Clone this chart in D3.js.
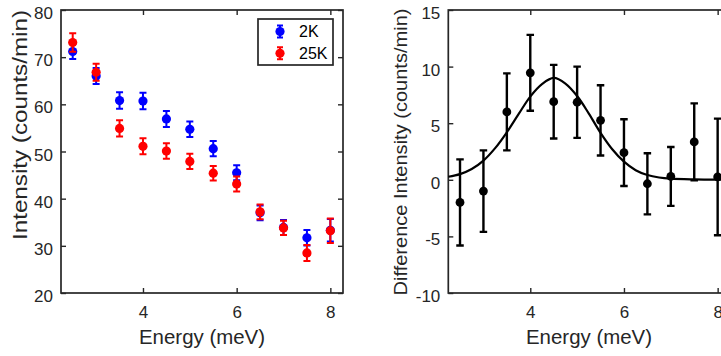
<!DOCTYPE html>
<html><head><meta charset="utf-8">
<script src="https://cdn.jsdelivr.net/npm/d3@7"></script>
<style>
html,body{margin:0;padding:0;background:#fff;}
svg{display:block;font-family:"Liberation Sans",Arial,sans-serif;}
</style></head>
<body>
<svg id="chart" width="721" height="356"></svg>
<script>
// ---------- data ----------
const energy   = [2.5, 3, 3.5, 4, 4.5, 5, 5.5, 6, 6.5, 7, 7.5, 8];
const int2K    = [71.2, 66.0, 60.8, 60.7, 56.9, 54.7, 50.6, 45.5, 37.0, 33.9, 31.7, 33.3];
const err2K    = [1.6, 1.7, 1.75, 1.75, 1.7, 1.65, 1.6, 1.6, 1.55, 1.6, 1.65, 2.4];
const int25K   = [73.1, 66.8, 54.9, 51.1, 50.1, 47.9, 45.4, 43.1, 37.2, 33.8, 28.5, 33.2];
const err25K   = [1.95, 1.8, 1.7, 1.7, 1.65, 1.6, 1.55, 1.6, 1.55, 1.5, 1.7, 2.6];
const diffVal  = [-2.0, -1.0, 6.0, 9.45, 6.9, 6.85, 5.25, 2.4, -0.35, 0.3, 3.35, 0.25];
const diffErr  = [3.8, 3.6, 3.4, 3.35, 3.25, 3.15, 3.1, 2.95, 2.7, 2.6, 3.4, 5.15];
const fitE     = [2.25, 2.5, 2.75, 3.0, 3.25, 3.5, 3.75, 4.0, 4.25, 4.5, 4.75, 5.0, 5.25, 5.5, 5.75, 6.0, 6.25, 6.5, 6.75, 7.0, 7.5, 8.0, 8.27];
const fitVal   = [0.27, 0.5, 0.95, 1.7, 2.8, 4.2, 5.8, 7.35, 8.45, 9.0, 8.5, 7.4, 5.85, 4.15, 2.7, 1.6, 0.85, 0.42, 0.2, 0.1, 0.04, 0.02, 0.02];
const xTicks   = [4, 6, 8];
const leftYTicks  = [20, 30, 40, 50, 60, 70, 80];
const rightYTicks = [-10, -5, 0, 5, 10, 15];
const legendLabels = ["2K", "25K"];
const seriesColors = ["#0000ff", "#ff0000"];

// ---------- drawing ----------
const svg = d3.select("#chart");
svg.append("rect").attr("width",721).attr("height",356).attr("fill","#fff");
const axisColor = "#262626";
const plotTop = 10, plotBottom = 293;
const fmt = d => String(d);

function panel(x0, x1, yDomain, yTicks) {
  const g = svg.append("g");
  const x = d3.scaleLinear().domain([2.25, 8.27]).range([x0, x1]);
  const y = d3.scaleLinear().domain(yDomain).range([plotBottom, plotTop]);
  const styleAxis = sel => {
    sel.select(".domain").remove();
    sel.selectAll(".tick line").attr("stroke", axisColor).attr("stroke-width", 1.4);
    sel.selectAll("text").attr("fill", axisColor).attr("font-size", 17)
       .attr("font-family", '"Liberation Sans",Arial,sans-serif');
  };
  g.append("g").attr("transform", `translate(0,${plotBottom})`)
    .call(d3.axisBottom(x).tickValues(xTicks).tickSize(-5).tickPadding(13).tickFormat(fmt))
    .call(styleAxis);
  g.append("g").attr("transform", `translate(0,${plotTop})`)
    .call(d3.axisTop(x).tickValues(xTicks).tickSize(-5).tickFormat(""))
    .call(styleAxis);
  g.append("g").attr("transform", `translate(${x0},0)`)
    .call(d3.axisLeft(y).tickValues(yTicks).tickSize(-5).tickPadding(8).tickFormat(fmt))
    .call(styleAxis)
    .call(s => s.selectAll("text").attr("dy", "0.5em"));
  g.append("g").attr("transform", `translate(${x1},0)`)
    .call(d3.axisRight(y).tickValues(yTicks).tickSize(-5).tickFormat(""))
    .call(styleAxis);
  g.append("rect").attr("x", x0).attr("y", plotTop).attr("width", x1 - x0).attr("height", plotBottom - plotTop)
    .attr("fill", "none").attr("stroke", axisColor).attr("stroke-width", 1.7);
  return {g, x, y};
}

function errorbars(g, x, y, xs, vals, errs, color, capW, lw, r) {
  const grp = g.append("g");
  xs.forEach((xv, i) => {
    const cx = x(xv), lo = y(vals[i] - errs[i]), hi = y(vals[i] + errs[i]);
    const p = d3.path();
    p.moveTo(cx, lo); p.lineTo(cx, hi);
    p.moveTo(cx - capW/2, lo); p.lineTo(cx + capW/2, lo);
    p.moveTo(cx - capW/2, hi); p.lineTo(cx + capW/2, hi);
    grp.append("path").attr("d", p.toString()).attr("stroke", color).attr("stroke-width", lw).attr("fill", "none");
    grp.append("circle").attr("cx", cx).attr("cy", y(vals[i])).attr("r", r).attr("fill", color);
  });
}

// Left panel
const L = panel(61, 343, [20, 80], leftYTicks);
errorbars(L.g, L.x, L.y, energy, int2K, err2K, seriesColors[0], 7, 2, 4.6);
errorbars(L.g, L.x, L.y, energy, int25K, err25K, seriesColors[1], 7, 2, 4.6);

// Legend
const lg = L.g.append("g");
lg.append("rect").attr("x", 258).attr("y", 19).attr("width", 75).attr("height", 46)
  .attr("fill", "#fff").attr("stroke", axisColor).attr("stroke-width", 1.7);
legendLabels.forEach((lab, i) => {
  const cy = 31.5 + i * 21.8, cx = 280, c = seriesColors[i];
  const p = d3.path();
  p.moveTo(cx, cy - 6); p.lineTo(cx, cy + 6);
  p.moveTo(cx - 3, cy - 6); p.lineTo(cx + 3, cy - 6);
  p.moveTo(cx - 3, cy + 6); p.lineTo(cx + 3, cy + 6);
  lg.append("path").attr("d", p.toString()).attr("stroke", c).attr("stroke-width", 2).attr("fill", "none");
  lg.append("circle").attr("cx", cx).attr("cy", cy).attr("r", 4.6).attr("fill", c);
  lg.append("text").attr("x", 299).attr("y", cy).attr("dy", "0.36em").attr("font-size", 16)
    .attr("fill", "#000").text(lab);
});

// Axis titles left
L.g.append("text").attr("x", 202).attr("y", 344).attr("text-anchor", "middle")
  .attr("font-size", 20).attr("fill", axisColor).attr("textLength", 126).attr("lengthAdjust", "spacingAndGlyphs")
  .text("Energy (meV)");
L.g.append("text").attr("transform", "translate(27,125) rotate(-90)").attr("text-anchor", "middle")
  .attr("font-size", 20).attr("fill", axisColor).attr("textLength", 230).attr("lengthAdjust", "spacingAndGlyphs")
  .text("Intensity (counts/min)");

// Right panel
const R = panel(448.3, 730.3, [-10, 15], rightYTicks);
const line = d3.line().x((d, i) => R.x(fitE[i])).y((d, i) => R.y(fitVal[i])).curve(d3.curveCatmullRom);
R.g.append("path").attr("d", line(fitE)).attr("fill", "none").attr("stroke", "#000").attr("stroke-width", 2.2);
errorbars(R.g, R.x, R.y, energy, diffVal, diffErr, "#000", 7.5, 2.4, 4.4);

R.g.append("text").attr("x", 589).attr("y", 344).attr("text-anchor", "middle")
  .attr("font-size", 20).attr("fill", axisColor).attr("textLength", 126).attr("lengthAdjust", "spacingAndGlyphs")
  .text("Energy (meV)");
R.g.append("text").attr("transform", "translate(407,152) rotate(-90)").attr("text-anchor", "middle")
  .attr("font-size", 19).attr("fill", axisColor).attr("textLength", 287).attr("lengthAdjust", "spacingAndGlyphs")
  .text("Difference Intensity (counts/min)");
</script>
</body></html>
